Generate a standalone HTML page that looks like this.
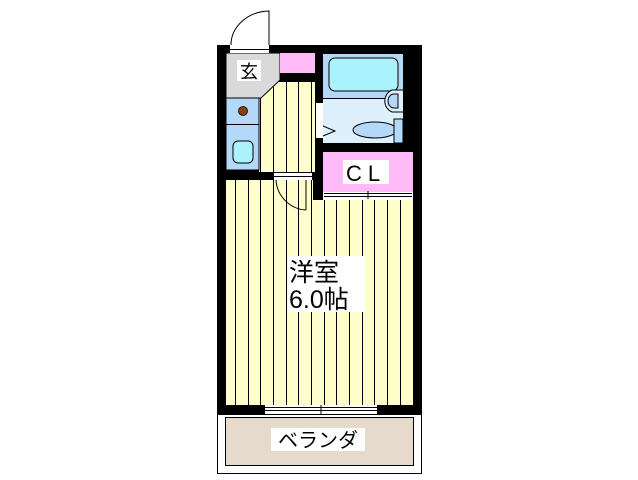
<!DOCTYPE html>
<html><head><meta charset="utf-8"><style>
html,body{margin:0;padding:0;background:#fff;}
svg{display:block;}
text{font-family:"Liberation Sans","Noto Sans CJK JP",sans-serif;}
</style></head><body>
<svg width="638" height="480" viewBox="0 0 638 480" xmlns="http://www.w3.org/2000/svg">
<rect x="217" y="45" width="205" height="370" fill="#000"/>
<rect x="226" y="180" width="87" height="225" fill="#ffffcc"/>
<rect x="313" y="200" width="100" height="205" fill="#ffffcc"/>
<rect x="259" y="82" width="56" height="90" fill="#ffffcc"/>
<g stroke="#000" stroke-width="1">
<line x1="235.5" y1="180" x2="235.5" y2="405"/><line x1="248.5" y1="180" x2="248.5" y2="405"/>
<line x1="260.5" y1="180" x2="260.5" y2="405"/><line x1="273.5" y1="180" x2="273.5" y2="405"/>
<line x1="286.5" y1="180" x2="286.5" y2="405"/><line x1="298.5" y1="180" x2="298.5" y2="405"/>
<line x1="311.5" y1="180" x2="311.5" y2="405"/><line x1="324.5" y1="200" x2="324.5" y2="405"/>
<line x1="336.5" y1="200" x2="336.5" y2="405"/><line x1="349.5" y1="200" x2="349.5" y2="405"/>
<line x1="362.5" y1="200" x2="362.5" y2="405"/><line x1="374.5" y1="200" x2="374.5" y2="405"/>
<line x1="387.5" y1="200" x2="387.5" y2="405"/><line x1="400.5" y1="200" x2="400.5" y2="405"/>
<line x1="273.5" y1="82" x2="273.5" y2="172"/><line x1="286.5" y1="82" x2="286.5" y2="172"/>
<line x1="298.5" y1="82" x2="298.5" y2="172"/><line x1="311.5" y1="82" x2="311.5" y2="172"/>
<line x1="260.5" y1="95" x2="260.5" y2="172"/>
</g>
<polygon points="226,53 280,53 280,80 261,98 226,98" fill="#d9d9d9" stroke="#000" stroke-width="1"/>
<rect x="280" y="53" width="35" height="20" fill="#ffbbf8"/>
<rect x="226" y="98" width="33" height="72" fill="#b4d8f8" stroke="#000" stroke-width="1"/>
<line x1="226" y1="124.5" x2="259" y2="124.5" stroke="#000"/>
<circle cx="243" cy="111" r="4.5" fill="#8b3d0a" stroke="#000" stroke-width="0.8"/>
<rect x="233" y="141" width="20" height="22" rx="5" fill="#aaf2fc" stroke="#000"/>
<rect x="274" y="173" width="38" height="7" fill="#fff"/>
<line x1="274" y1="176.5" x2="312" y2="176.5" stroke="#000"/>
<path d="M276 180 A32 32 0 0 0 306 210" fill="none" stroke="#000"/>
<line x1="306" y1="180" x2="306" y2="210" stroke="#000"/>
<rect x="323" y="54" width="80" height="89" fill="#def0fc"/>
<rect x="323" y="54" width="80" height="44" fill="#b4d8f8"/>
<line x1="323" y1="98.5" x2="392" y2="98.5" stroke="#000"/>
<rect x="329" y="58" width="69" height="33" rx="6" fill="#aaf2fc" stroke="#000"/>
<path d="M403 90 L392 90 A12 12 0 0 0 392 112 L403 112" fill="#def0fc" stroke="#000"/>
<path d="M398 94 L394 94 A6 7 0 0 0 394 108 L398 108 Z" fill="#b4d8f8" stroke="#000"/>
<ellipse cx="375" cy="130" rx="22" ry="8" fill="#b4d8f8" stroke="#000"/>
<rect x="394" y="119" width="9" height="24" fill="#b4d8f8" stroke="#000"/>
<rect x="316" y="103" width="7" height="35" fill="#fff"/>
<path d="M323 126 L335 131 L323 136" fill="none" stroke="#000"/>
<rect x="323" y="152" width="90" height="40" fill="#ffbbf8"/>
<rect x="323" y="192" width="90" height="8" fill="#fff"/>
<g stroke="#000"><line x1="324" y1="193.5" x2="412" y2="193.5"/><line x1="324" y1="196.5" x2="412" y2="196.5"/><line x1="368" y1="191" x2="368" y2="199"/></g>
<rect x="343" y="160" width="46" height="24" fill="#fff"/>
<text x="366" y="181" font-size="22" text-anchor="middle" letter-spacing="6">CL</text>
<rect x="230" y="45" width="39" height="8" fill="#fff"/>
<line x1="230" y1="49.5" x2="269" y2="49.5" stroke="#000"/>
<path d="M231 45 A39 34 0 0 1 269 11 L269 45" fill="none" stroke="#000"/>
<rect x="237" y="60" width="24" height="21" fill="#fff"/>
<text x="249" y="78" font-size="18" text-anchor="middle">玄</text>
<rect x="288" y="256" width="77" height="56" fill="#fff"/>
<text x="289" y="281" font-size="25">洋室</text>
<text x="289" y="308" font-size="25">6.0帖</text>
<rect x="265" y="405" width="112" height="9" fill="#fff"/>
<g stroke="#000"><line x1="265" y1="407.5" x2="377" y2="407.5"/><line x1="265" y1="410.5" x2="377" y2="410.5"/><line x1="321" y1="405" x2="321" y2="414"/></g>
<rect x="217.5" y="414.5" width="204" height="59" fill="#fff" stroke="#000"/>
<rect x="225.5" y="417.5" width="188" height="48" fill="#e5dacc" stroke="#000"/>
<rect x="271" y="428" width="94" height="23" fill="#fff"/>
<text x="318" y="447" font-size="20" text-anchor="middle">ベランダ</text>
</svg>
</body></html>
